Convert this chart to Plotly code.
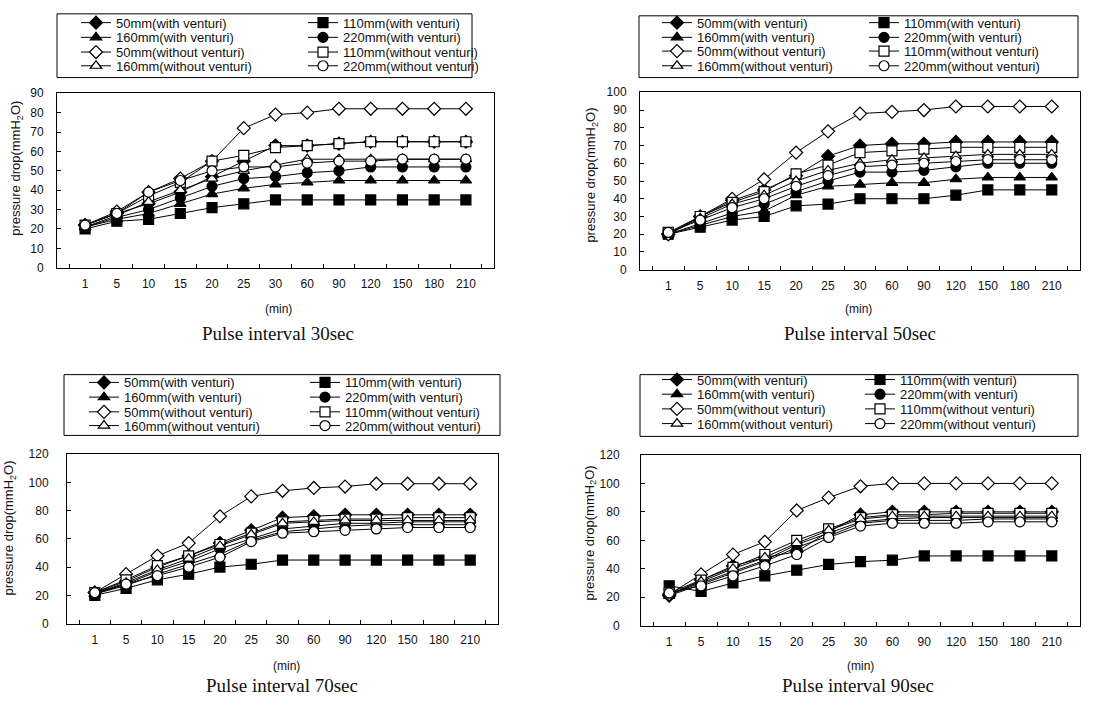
import plotly.graph_objects as go

# ---------------- data ----------------
minutes = ["1", "5", "10", "15", "20", "25", "30", "60", "90", "120", "150", "180", "210"]
series_names = ["50mm(with venturi)", "110mm(with venturi)", "160mm(with venturi)", "220mm(with venturi)",
                "50mm(without venturi)", "110mm(without venturi)", "160mm(without venturi)", "220mm(without venturi)"]
captions = ["Pulse interval 30sec", "Pulse interval 50sec", "Pulse interval 70sec", "Pulse interval 90sec"]
y_max = [90, 100, 120, 120]
y_step = [10, 10, 20, 20]

# Pulse interval 30 sec
p30_wv50 = [22, 28, 33, 39, 47, 55, 63, 63, 64, 65, 65, 65, 65]
p30_wv110 = [20, 24, 25, 28, 31, 33, 35, 35, 35, 35, 35, 35, 35]
p30_wv160 = [21, 25, 28, 33, 38, 41, 43, 44, 45, 45, 45, 45, 45]
p30_wv220 = [21, 26, 30, 36, 42, 46, 47, 49, 50, 52, 52, 52, 52]
p30_wo50 = [22, 29, 39, 46, 55, 72, 79, 80, 82, 82, 82, 82, 82]
p30_wo110 = [22, 28, 37, 44, 55, 58, 62, 63, 64, 65, 65, 65, 65]
p30_wo160 = [21, 27, 34, 40, 46, 50, 53, 56, 56, 56, 56, 56, 56]
p30_wo220 = [22, 28, 39, 45, 50, 52, 52, 54, 55, 55, 56, 56, 56]

# Pulse interval 50 sec
p50_wv50 = [20, 30, 39, 45, 53, 64, 70, 71, 71, 72, 72, 72, 72]
p50_wv110 = [20, 24, 28, 30, 36, 37, 40, 40, 40, 42, 45, 45, 45]
p50_wv160 = [20, 25, 30, 33, 42, 47, 48, 49, 49, 51, 52, 52, 52]
p50_wv220 = [20, 26, 32, 37, 44, 50, 55, 55, 56, 58, 60, 60, 60]
p50_wo50 = [20, 30, 40, 51, 66, 78, 88, 89, 90, 92, 92, 92, 92]
p50_wo110 = [21, 30, 38, 44, 54, 59, 66, 67, 68, 69, 69, 69, 69]
p50_wo160 = [20, 29, 37, 42, 50, 56, 60, 62, 63, 64, 65, 65, 65]
p50_wo220 = [21, 28, 35, 40, 47, 53, 58, 59, 60, 61, 62, 62, 62]

# Pulse interval 70 sec
p70_wv50 = [22, 30, 40, 48, 57, 66, 75, 76, 77, 77, 77, 77, 77]
p70_wv110 = [20, 25, 31, 35, 40, 42, 45, 45, 45, 45, 45, 45, 45]
p70_wv160 = [21, 27, 35, 42, 49, 59, 65, 67, 69, 70, 70, 70, 70]
p70_wv220 = [21, 28, 37, 44, 53, 60, 67, 69, 71, 71, 72, 72, 72]
p70_wo50 = [22, 35, 48, 57, 76, 90, 94, 96, 97, 99, 99, 99, 99]
p70_wo110 = [22, 31, 41, 48, 56, 64, 72, 73, 74, 74, 75, 75, 75]
p70_wo160 = [21, 29, 38, 46, 55, 63, 71, 72, 73, 73, 73, 73, 73]
p70_wo220 = [22, 28, 34, 40, 47, 58, 64, 65, 66, 67, 68, 68, 68]

# Pulse interval 90 sec
p90_wv50 = [21, 32, 42, 48, 52, 66, 78, 80, 80, 80, 80, 80, 80]
p90_wv110 = [28, 24, 30, 35, 39, 43, 45, 46, 49, 49, 49, 49, 49]
p90_wv160 = [21, 29, 37, 45, 55, 63, 72, 74, 74, 74, 75, 75, 75]
p90_wv220 = [22, 30, 38, 46, 57, 65, 73, 75, 76, 76, 76, 76, 76]
p90_wo50 = [22, 36, 50, 59, 81, 90, 98, 100, 100, 100, 100, 100, 100]
p90_wo110 = [23, 32, 41, 50, 60, 68, 76, 78, 78, 79, 79, 79, 79]
p90_wo160 = [22, 31, 40, 48, 58, 67, 75, 77, 77, 77, 77, 77, 77]
p90_wo220 = [23, 28, 35, 42, 50, 62, 70, 72, 72, 72, 73, 73, 73]

panels = [
    [p30_wv50, p30_wv110, p30_wv160, p30_wv220, p30_wo50, p30_wo110, p30_wo160, p30_wo220],
    [p50_wv50, p50_wv110, p50_wv160, p50_wv220, p50_wo50, p50_wo110, p50_wo160, p50_wo220],
    [p70_wv50, p70_wv110, p70_wv160, p70_wv220, p70_wo50, p70_wo110, p70_wo160, p70_wo220],
    [p90_wv50, p90_wv110, p90_wv160, p90_wv220, p90_wo50, p90_wo110, p90_wo160, p90_wo220],
]

# ---------------- styling / layout ----------------
W, H = 1110, 712
def px(x):
    return x / W
def py(y):
    return 1 - y / H

symbols = ["diamond", "square", "triangle-up", "circle", "diamond", "square", "triangle-up", "circle"]
fills = ["black"] * 4 + ["white"] * 4
sizes = [10, 10, 10, 10, 10, 10, 10, 10]

# plot areas in pixels: (left, right, top, bottom)
plot_px = [(57, 494, 88, 266), (640, 1080, 87, 268), (67, 498, 456, 629), (641, 1080, 457, 631)]
# legend boxes (left, right, top, bottom)
legbox_px = [(57, 472, 7, 72), (639, 1078, 9, 72), (64, 500, 375, 437), (640, 1078, 375, 438)]
# legend: left text start, right text start, row centers
leg_text = [(116, 338, [16, 31, 46, 60]), (697, 899, [16, 31, 45, 60]),
            (124, 340, [383, 398, 413, 427]), (697, 895, [380, 395, 410, 425])]
ytitle_px = [(17, 165), (592, 172), (10, 532), (590, 537)]
min_px = [(278, 308), (858, 308), (286, 672), (860, 672)]
cap_px = [(278, 333), (860, 333), (282, 692), (858, 692)]
ystand = [10, 10, 15, 18]

fig = go.Figure()
font_family = "Liberation Sans, Arial, sans-serif"

layout_updates = {}
annotations = []
shapes = []
for p in range(4):
    l, r, t, b = plot_px[p]
    ax = "" if p == 0 else str(p + 1)
    for i in range(8):
        row = i // 2
        k = p * 4 + row + 1
        leg = "legend" if k == 1 else f"legend{k}"
        fig.add_trace(go.Scatter(
            x=minutes, y=panels[p][i], name=series_names[i], mode="lines+markers",
            xaxis="x" + ax, yaxis="y" + ax, legend=leg,
            line=dict(color="black", width=1),
            marker=dict(symbol=symbols[i], size=sizes[i], color=fills[i],
                        line=dict(color="black", width=1.2)),
        ))
    layout_updates["xaxis" + ax] = dict(
        domain=[px(l), px(r)], anchor="y" + ax, type="category",
        showline=True, mirror=True, linecolor="black", linewidth=1,
        ticks="inside", tickson="boundaries", ticklen=4, tickcolor="black",
        showgrid=False, zeroline=False, ticklabelstandoff=5,
        tickfont=dict(family=font_family, size=12, color="#111"),
    )
    layout_updates["yaxis" + ax] = dict(
        domain=[py(b), py(t)], anchor="x" + ax, range=[0, y_max[p]],
        tickmode="linear", tick0=0, dtick=y_step[p],
        showline=True, mirror=True, linecolor="black", linewidth=1,
        ticks="inside", ticklen=4, tickcolor="black",
        showgrid=False, zeroline=False, ticklabelstandoff=ystand[p],
        tickfont=dict(family=font_family, size=12, color="#111"),
    )
    # legends: one horizontal legend per row
    lt, rt, rows = leg_text[p]
    for row in range(4):
        k = p * 4 + row + 1
        leg = "legend" if k == 1 else f"legend{k}"
        layout_updates[leg] = dict(
            orientation="h", x=px(lt - 40), xanchor="left", y=py(rows[row]), yanchor="middle",
            bgcolor="rgba(0,0,0,0)", borderwidth=0, itemwidth=30,
            entrywidth=rt - lt - 40, entrywidthmode="pixels",
            font=dict(family=font_family, size=13, color="#111"),
            tracegroupgap=0, itemclick=False, itemdoubleclick=False,
        )
    bl, br, bt, bb = legbox_px[p]
    shapes.append(dict(type="rect", xref="paper", yref="paper", x0=px(bl), x1=px(br),
                       y0=py(bb), y1=py(bt), line=dict(color="black", width=1)))
    annotations.append(dict(text="pressure drop(mmH<sub>2</sub>O)", textangle=-90,
                            x=px(ytitle_px[p][0]), y=py(ytitle_px[p][1]), xref="paper", yref="paper",
                            xanchor="center", yanchor="middle", showarrow=False,
                            font=dict(family=font_family, size=13, color="#111")))
    annotations.append(dict(text="(min)", x=px(min_px[p][0]), y=py(min_px[p][1]), xref="paper", yref="paper",
                            xanchor="center", yanchor="middle", showarrow=False,
                            font=dict(family=font_family, size=12, color="#111")))
    annotations.append(dict(text=captions[p], x=px(cap_px[p][0]), y=py(cap_px[p][1]), xref="paper", yref="paper",
                            xanchor="center", yanchor="middle", showarrow=False,
                            font=dict(family="Liberation Serif, Times New Roman, serif", size=19, color="#111")))

fig.update_layout(
    width=W, height=H, margin=dict(l=0, r=0, t=0, b=0),
    paper_bgcolor="white", plot_bgcolor="white",
    showlegend=True, annotations=annotations, shapes=shapes,
    **layout_updates,
)
fig.write_html("out.html", config={"displayModeBar": False},
               post_script="document.body.style.margin='0px';")
